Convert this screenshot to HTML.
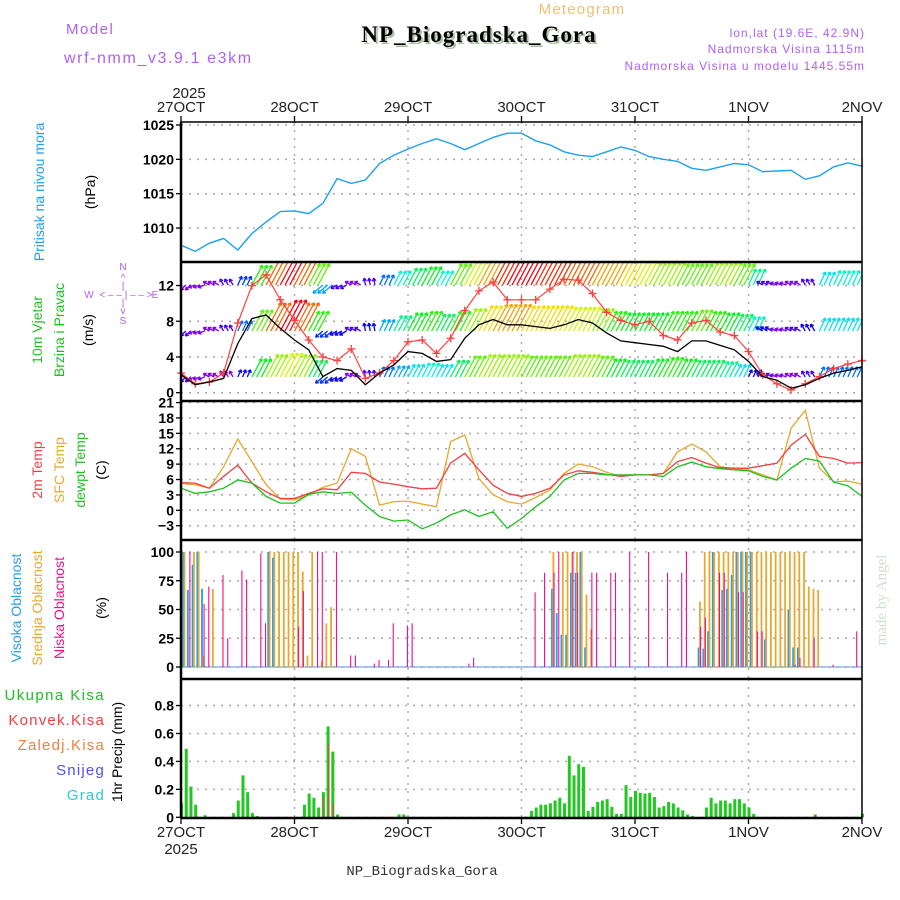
<!DOCTYPE html>
<html><head><meta charset="utf-8"><style>
html,body{margin:0;padding:0;background:#fff;}
svg{display:block;font-family:"Liberation Sans",sans-serif;}
</style></head><body>
<svg id="chart" width="900" height="900" viewBox="0 0 900 900" xmlns="http://www.w3.org/2000/svg">
<rect width="900" height="900" fill="#fff"/>
<g id="hdr">
<text x="66" y="34" font-size="15" fill="#b060f0" letter-spacing="1.5">Model</text>
<text x="64" y="63" font-size="16" fill="#b060f0" letter-spacing="1.6">wrf-nmm_v3.9.1 e3km</text>
<text x="582" y="14" font-size="15" fill="#f0c070" text-anchor="middle" letter-spacing="1.2">Meteogram</text>
<text x="481" y="44" font-size="23" font-weight="bold" fill="#a8c0a0" text-anchor="middle" font-family="Liberation Serif,serif" letter-spacing="1">NP_Biogradska_Gora</text>
<text x="479" y="42" font-size="23" font-weight="bold" fill="#000" text-anchor="middle" font-family="Liberation Serif,serif" letter-spacing="1">NP_Biogradska_Gora</text>
<text x="865" y="37" font-size="12" fill="#b060f0" text-anchor="end" letter-spacing="1">lon,lat (19.6E, 42.9N)</text>
<text x="865" y="53" font-size="12" fill="#b060f0" text-anchor="end" letter-spacing="1">Nadmorska Visina 1115m</text>
<text x="865" y="70" font-size="12" fill="#b060f0" text-anchor="end" letter-spacing="1">Nadmorska Visina u modelu 1445.55m</text>
<text x="422" y="875" font-size="14" fill="#333" text-anchor="middle" font-family="Liberation Mono,monospace">NP_Biogradska_Gora</text>
<text transform="translate(886,600) rotate(-90)" font-size="15" fill="#d0e0d0" text-anchor="middle" font-family="Liberation Serif,serif">made by Angel</text>
</g>
<g id="labels" font-size="14">
<text transform="translate(44,192) rotate(-90)" fill="#1ea0f0" text-anchor="middle">Pritisak na nivou mora</text>
<text transform="translate(95,192) rotate(-90)" fill="#000" text-anchor="middle">(hPa)</text>
<text transform="translate(42,330) rotate(-90)" fill="#20c020" text-anchor="middle">10m Vjetar</text>
<text transform="translate(64,330) rotate(-90)" fill="#20c020" text-anchor="middle">Brzina i Pravac</text>
<text transform="translate(93,330) rotate(-90)" fill="#000" text-anchor="middle">(m/s)</text>
<text transform="translate(42,470) rotate(-90)" fill="#f04040" text-anchor="middle">2m Temp</text>
<text transform="translate(64,470) rotate(-90)" fill="#e8a830" text-anchor="middle">SFC Temp</text>
<text transform="translate(85,470) rotate(-90)" fill="#20c020" text-anchor="middle">dewpt Temp</text>
<text transform="translate(106,470) rotate(-90)" fill="#000" text-anchor="middle">(C)</text>
<text transform="translate(21,608) rotate(-90)" fill="#1ea0f0" text-anchor="middle">Visoka Oblacnost</text>
<text transform="translate(42,608) rotate(-90)" fill="#e8a830" text-anchor="middle">Srednja Oblacnost</text>
<text transform="translate(64,608) rotate(-90)" fill="#f0108a" text-anchor="middle">Niska Oblacnost</text>
<text transform="translate(106,608) rotate(-90)" fill="#000" text-anchor="middle">(%)</text>
<text transform="translate(122,752) rotate(-90)" fill="#000" text-anchor="middle">1hr Precip (mm)</text>
<text x="105" y="700" font-size="15" fill="#20c020" text-anchor="end" letter-spacing="1.4">Ukupna Kisa</text>
<text x="105" y="725" font-size="15" fill="#f04040" text-anchor="end" letter-spacing="1.2">Konvek.Kisa</text>
<text x="105" y="750" font-size="15" fill="#f08040" text-anchor="end" letter-spacing="1.2">Zaledj.Kisa</text>
<text x="105" y="775" font-size="15" fill="#5050f0" text-anchor="end" letter-spacing="1.2">Snijeg</text>
<text x="105" y="800" font-size="15" fill="#30c8d0" text-anchor="end" letter-spacing="1.2">Grad</text>
<g fill="#b060f0" font-size="10" text-anchor="middle">
<text x="123" y="270">N</text><text x="123" y="281">^</text><text x="123" y="289">|</text><text x="123" y="306">|</text><text x="123" y="314">v</text><text x="123" y="324">S</text>
<text x="89" y="298">W</text><text x="126" y="298">&lt; – – | – – &gt;</text><text x="155" y="298">E</text>
</g>
</g>
<g id="plot"></g>
</svg>
<script>
// ---- data (3-hourly, starting 27OCT 00) ----
const dayLabels = ["27OCT","28OCT","29OCT","30OCT","31OCT","1NOV","2NOV"];
const pressure = [1007.5,1006.6,1007.8,1008.5,1006.8,1009.2,1010.9,1012.4,1012.5,1012.1,1013.6,1017.2,1016.5,1017,1019.4,1020.6,1021.5,1022.3,1023,1022.3,1021.4,1022.3,1023.2,1023.8,1023.8,1022.7,1022.1,1021.1,1020.6,1020.4,1021.1,1021.8,1021.3,1020.4,1020,1019.7,1018.7,1018.4,1018.9,1019.4,1019.2,1018.2,1018.3,1018.4,1017.1,1017.6,1018.9,1019.5,1019];
const windSpeed = [2,0.9,1.2,1.6,5.5,8.3,8.7,7.2,5.9,4.8,1.8,2.7,2.5,0.9,2.2,3.1,4.6,4.4,3.5,3.7,6.1,7.6,8.2,7.6,7.6,7.4,7.2,7.6,8.2,7.8,6.7,5.8,5.6,5.4,5.2,4.6,5.8,5.8,5.3,4.8,3.5,1.8,1.4,0.5,0.9,1.6,2.2,2.5,2.9];
const windGust = [2.2,1,1.2,2.2,7.8,12,13.2,10.4,8.1,5.9,4,3.6,4.9,1.6,2.2,3.6,5.7,5.9,4.4,6.1,9.2,11.4,12.4,10.4,10.4,10.4,11.6,12.7,12.6,11.1,9,8.1,7.6,8,6.4,5.9,7.8,8.1,6.8,6.4,4.6,2,1,0.3,1,1.8,2.7,3.2,3.6];
const arrowTop = [3,3,3,4,6,14,20,22,20,15,8,4,3,4,7,10,12,13,10,15,17,19,21,22,22,21,21,20,20,19,19,18,17,16,16,15,15,16,16,15,11,4,3,3,4,9,10,10,10];
const arrowMid = [4,3,3,4,7,15,20,22,20,14,6,5,4,5,8,11,13,14,12,14,16,18,19,19,18,18,18,17,17,16,14,13,13,13,14,14,15,14,13,12,10,5,3,4,5,9,9,9,9];
const arrowLow = [4,3,3,3,5,13,16,17,16,12,6,5,3,4,7,8,9,10,9,12,15,16,16,16,15,15,15,16,16,15,13,12,12,13,14,13,12,12,11,9,5,4,3,3,4,7,7,7,7];
const windDir = [225,200,150,120,65,62,62,62,62,62,220,210,150,100,65,62,62,62,62,62,62,62,62,62,62,62,62,62,62,62,62,62,62,62,62,62,62,62,62,62,65,150,160,150,120,65,65,65,65];
const temp2m = [5.4,5.3,4.3,6.6,8.8,5.3,3.6,2.3,2.3,3.3,4.2,4,7.4,7.2,5.5,5.1,4.6,4.2,4.3,9.2,11.1,7.9,4.9,3.3,2.7,3.3,4.3,6.9,7.7,7.4,7,6.6,6.9,6.9,7.2,9.5,10.3,9.2,8.3,8.2,8.2,8.7,9.2,12.7,14.8,10.5,10.1,9.2,9.3];
const tempSfc = [5.2,5,4.3,8.5,13.9,9.5,5,2.2,2,3,4.5,5.3,12,10.5,1,1.7,1.8,1.2,0.7,13.4,14.7,6.2,3,1.7,1.2,2.5,4,7.2,9,8.5,7.4,6.6,6.9,6.9,7.2,11.4,12.9,11.4,8.5,8.1,7.9,6.9,5.9,16,19.5,8.2,5.6,5.7,5.1];
const tempDew = [4.3,3.3,3.6,4.3,5.9,5.3,2.7,1.4,1.4,3.1,3.6,3.3,3.5,1,-1.2,-2.1,-1.9,-3.6,-2.5,-0.9,0.1,-1.2,-0.3,-3.5,-1.6,0.7,2.7,5.9,7.2,7.2,6.9,6.9,6.9,6.9,6.6,8.5,9.4,8.5,8.1,7.9,7.7,6.6,5.9,8.2,10.1,9.6,5.5,4.8,2.7];
// ---- hourly sparse [hour, value] ----
const cloudHigh = [[0,100],[1,67],[2,89],[3,100],[4,68],[18,100],[19,95],[78,68],[79,47],[80,28],[81,28],[82,82],[83,82],[84,100],[85,17],[109,17],[110,16],[111,31],[112,100],[114,67],[115,68],[116,80],[117,100],[118,100],[119,100],[120,100],[123,24],[128,50],[129,17],[130,17]];
const cloudMid = [[0,100],[2,100],[3,100],[4,10],[6,68],[18,100],[19,100],[20,100],[21,100],[22,100],[23,100],[24,100],[25,83],[26,10],[27,100],[29,5],[30,38],[31,52],[78,100],[80,100],[81,100],[82,100],[83,100],[84,100],[85,63],[86,33],[109,57],[110,100],[111,100],[112,100],[113,100],[114,100],[115,100],[116,100],[117,100],[118,100],[119,100],[120,100],[121,100],[122,100],[123,100],[124,100],[125,100],[126,100],[127,100],[128,100],[129,100],[130,100],[131,100],[132,70],[133,68],[134,67]];
const cloudLow = [[1,100],[4,55],[5,70],[8,80],[9,25],[12,84],[13,76],[16,99],[17,38],[24,35],[25,66],[28,100],[29,100],[32,100],[35,10],[36,10],[40,3],[41,6],[43,6],[44,38],[47,36],[48,38],[60,3],[61,8],[74,65],[76,82],[78,82],[79,100],[82,100],[83,82],[86,82],[87,82],[90,82],[91,82],[94,100],[98,100],[102,82],[105,82],[106,100],[109,35],[110,43],[113,82],[114,82],[117,65],[118,65],[121,31],[122,31],[129,2],[130,8],[133,25],[137,2],[142,31]];
const precipTotal = [[0,.1],[1,.49],[2,.22],[3,.09],[5,.015],[11,.03],[12,.12],[13,.3],[14,.18],[15,.03],[16,.01],[26,.09],[27,.17],[28,.14],[29,.07],[30,.18],[31,.65],[32,.47],[33,.02],[46,.02],[47,.02],[74,.045],[75,.07],[76,.09],[77,.09],[78,.1],[79,.12],[80,.14],[81,.1],[82,.44],[83,.3],[84,.38],[85,.36],[86,.045],[87,.075],[88,.11],[89,.12],[90,.13],[91,.075],[92,.025],[93,.025],[94,.23],[95,.145],[96,.19],[97,.175],[98,.17],[99,.175],[100,.145],[101,.07],[102,.08],[103,.11],[104,.1],[105,.07],[106,.05],[107,.02],[108,.01],[111,.07],[112,.14],[113,.1],[114,.12],[115,.12],[116,.1],[117,.13],[118,.13],[119,.1],[120,.07],[121,.025],[134,.02],[144,.025]];
const precipConv = [[30,.15],[31,.53],[32,.1],[134,.02]];
const pTicks=[1010,1015,1020,1025], wTicks=[0,4,8,12], tTicks=[-3,0,3,6,9,12,15,18,21], cTicks=[0,25,50,75,100], rTicks=[0,0.2,0.4,0.6,0.8];

const NS="http://www.w3.org/2000/svg";
const plot=document.getElementById('plot');
function el(tag,attrs,parent){const e=document.createElementNS(NS,tag);for(const k in attrs)e.setAttribute(k,attrs[k]);(parent||plot).appendChild(e);return e;}
const X0=181,X1=862,PX_H=(X1-X0)/144;
const xh=h=>X0+h*PX_H;
const yP=p=>125+(1025-p)*6.87;
const yW=v=>392.7-v*8.93;
const yT=t=>510.3-5.13*t;
const yC=c=>667-c*1.15;
const yR=r=>817.3-r*139.7;
const panels=[[122,262],[262,401],[401,540],[540,679],[679,818]];

const grid=el('g',{});


function hgrid(y){el('line',{x1:X0,x2:X1,y1:y,y2:y,stroke:'#aaa','stroke-dasharray':'2,6','stroke-width':1.5},grid);}
pTicks.forEach(v=>hgrid(yP(v)));wTicks.forEach(v=>hgrid(yW(v)));tTicks.forEach(v=>hgrid(yT(v)));
cTicks.forEach(v=>hgrid(yC(v)));rTicks.forEach(v=>hgrid(yR(v)));
for(let d=1;d<6;d++){panels.forEach(p=>el('line',{x1:xh(d*24),x2:xh(d*24),y1:p[0],y2:p[1],stroke:'#aaa','stroke-dasharray':'2,6','stroke-width':1.5},grid));}

function line3h(arr,yf,color,name,w){
  const pts=arr.map((v,i)=>xh(i*3).toFixed(1)+','+yf(v).toFixed(1)).join(' ');
  const l=el('polyline',{points:pts,fill:'none',stroke:color,'stroke-width':w||1.3});
  
  
  return l;
}
line3h(pressure,yP,'#1ea0f0','pressure-line',1.4);

const clip=el('clipPath',{id:'wclip'});el('rect',{x:X0,y:262,width:X1-X0,height:139},clip);
const arrows=el('g',{'clip-path':'url(#wclip)'});


function hue(s){return ((315-s*14.5)%360+360)%360;}
[[arrowTop,285],[arrowMid,331],[arrowLow,377]].forEach(([arr,base])=>{
  arr.forEach((s,i)=>{
    for(let k=0;k<3;k++){
      const h=i*3+k; if(h>144)continue;
      const a=windDir[i]*Math.PI/180,L=Math.max(7,s*1.6);
      const x=xh(h),x2=x+L*Math.cos(a),y2=base-L*Math.sin(a);
      const c='hsl('+hue(s)+',100%,48%)';
      const g=el('g',{stroke:c,'stroke-width':1.3,fill:'none'},arrows);
      
      
      el('line',{x1:x,y1:base,x2:x2,y2:y2},g);
      const ha=3.5;[a+2.6,a-2.6].forEach(b=>el('line',{x1:x2,y1:y2,x2:x2+ha*Math.cos(b),y2:y2-ha*Math.sin(b)},g));
    }
  });
});
line3h(windGust,yW,'#ff4040','wind-gust-line',1.2);
windGust.forEach((v,i)=>{const x=xh(i*3),y=yW(v);
  const m=el('path',{d:`M${x-4},${y}H${x+4}M${x},${y-4}V${y+4}`,stroke:'#ff4040','stroke-width':1.3});
  
  });
line3h(windSpeed,yW,'#000','wind-speed-line',1.3);

line3h(tempSfc,yT,'#e8a830','sfc-temp-line',1.3);
line3h(temp2m,yT,'#f04040','temp-2m-line',1.3);
line3h(tempDew,yT,'#20c020','dewpoint-line',1.3);

const cl=el('g',{});


el('line',{x1:X0,x2:X1,y1:yC(0),y2:yC(0),stroke:'#7aa8e8','stroke-width':1.2},cl);
function cbars(arr,color,off,w,name){arr.forEach(([h,v])=>{
  const r=el('rect',{x:xh(h)+off,y:yC(v),width:w,height:yC(0)-yC(v),fill:color},cl);
  
  });}
cbars(cloudHigh,'#1ea0f0',1.2,1.8,'high-cloud-bar');
cbars(cloudMid,'#e8a830',2.6,1.8,'mid-cloud-bar');
cbars(cloudLow,'#f0108a',3.6,1.1,'low-cloud-bar');

const pr=el('g',{});


precipTotal.forEach(([h,v])=>{const r=el('rect',{x:xh(h)-1,y:yR(v),width:3,height:yR(0)-yR(v),fill:'#20c820'},pr);
  
  });
precipConv.forEach(([h,v])=>{const r=el('rect',{x:xh(h)+0.5,y:yR(v),width:1,height:yR(0)-yR(v),fill:'#f04040'},pr);
  
  });

const ax=el('g',{});


el('rect',{x:X0,y:122,width:X1-X0,height:696,fill:'none',stroke:'#000','stroke-width':1.5},ax);
[262,401,540,679].forEach(y=>el('line',{x1:X0,x2:X1,y1:y,y2:y,stroke:'#000','stroke-width':2.5},ax));
el('line',{x1:X0,x2:X0,y1:122,y2:818,stroke:'#000','stroke-width':2.5},ax);
el('line',{x1:X0,x2:X1,y1:818,y2:818,stroke:'#000','stroke-width':2.5},ax);
function yticks(ticks,yf,fmt){ticks.forEach(v=>{const y=yf(v);
  el('line',{x1:X0-5,x2:X0,y1:y,y2:y,stroke:'#000','stroke-width':1.3},ax);
  const t=el('text',{x:X0-7,y:y+5,'font-size':14,'text-anchor':'end',fill:'#000','font-weight':'bold'},ax);
  
  
  t.textContent=fmt?fmt(v):String(v).replace('-','\u2212');});}
yticks(pTicks,yP);yticks(wTicks,yW);yticks(tTicks,yT);yticks(cTicks,yC);yticks(rTicks,yR,v=>v===0?'0':v.toFixed(1));
dayLabels.forEach((d,i)=>{const x=xh(i*24);
  el('line',{x1:x,x2:x,y1:116,y2:122,stroke:'#000','stroke-width':1.3},ax);
  el('line',{x1:x,x2:x,y1:818,y2:824,stroke:'#000','stroke-width':1.3},ax);
  const t=el('text',{x:x,y:112,'font-size':15,'text-anchor':'middle',fill:'#222'},ax);
  
  
  t.textContent=d;
  const b=el('text',{x:x,y:837,'font-size':15,'text-anchor':'middle',fill:'#222'},ax);
  
  
  b.textContent=d;});
const yr1=el('text',{x:189,y:98,'font-size':15,'text-anchor':'middle',fill:'#222'},ax);


yr1.textContent='2025';
const yr2=el('text',{x:181,y:854,'font-size':15,'text-anchor':'middle',fill:'#222'},ax);


yr2.textContent='2025';
</script>
</body></html>
